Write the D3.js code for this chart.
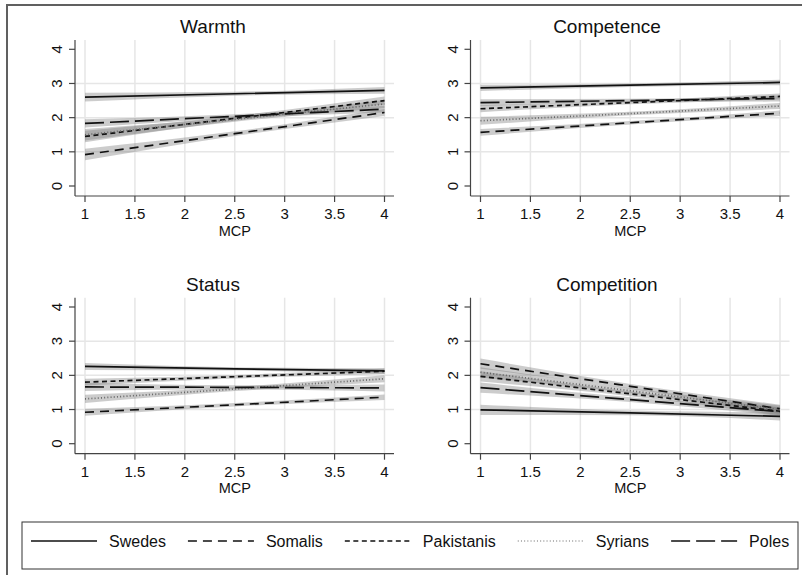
<!DOCTYPE html>
<html>
<head>
<meta charset="utf-8">
<script src="https://cdn.jsdelivr.net/npm/d3@7"></script>
<style>
  body { margin: 0; background: #fff; }
  svg { display: block; font-family: "Liberation Sans", Arial, sans-serif; }
</style>
</head>
<body>
<div class="chart"></div>
<script>
// panels and groups
var panels = ["Warmth", "Competence", "Status", "Competition"];
var groups = ["Swedes", "Somalis", "Pakistanis", "Syrians", "Poles"];
var mcpTicks = [1, 1.5, 2, 2.5, 3, 3.5, 4];
var yTicks = [0, 1, 2, 3, 4];
var gridY = [1, 2, 3];

// MCP values where the fitted lines / bands were read
var atMcp = [1, 2.5, 4];

// predicted values per group at atMcp (rows = groups)
var warmthFit = [[2.60, 2.70, 2.80], [0.92, 1.53, 2.15], [1.45, 1.98, 2.50], [1.50, 1.95, 2.40], [1.83, 2.04, 2.25]];
var competenceFit = [[2.87, 2.95, 3.03], [1.57, 1.85, 2.13], [2.26, 2.44, 2.62], [1.91, 2.12, 2.34], [2.44, 2.50, 2.56]];
var statusFit = [[2.26, 2.19, 2.13], [0.92, 1.14, 1.36], [1.80, 1.96, 2.12], [1.31, 1.60, 1.90], [1.66, 1.65, 1.63]];
var competitionFit = [[0.99, 0.90, 0.80], [2.34, 1.68, 1.02], [1.97, 1.46, 0.95], [2.09, 1.55, 1.00], [1.64, 1.29, 0.94]];

// half width of the confidence band at atMcp
var warmthCI = [[0.13, 0.06, 0.10], [0.17, 0.07, 0.10], [0.17, 0.07, 0.12], [0.17, 0.07, 0.12], [0.12, 0.06, 0.10]];
var competenceCI = [[0.09, 0.05, 0.08], [0.10, 0.05, 0.08], [0.10, 0.05, 0.09], [0.12, 0.05, 0.09], [0.10, 0.05, 0.09]];
var statusCI = [[0.10, 0.05, 0.08], [0.10, 0.05, 0.08], [0.10, 0.05, 0.08], [0.12, 0.06, 0.10], [0.12, 0.06, 0.10]];
var competitionCI = [[0.15, 0.07, 0.12], [0.15, 0.07, 0.12], [0.15, 0.07, 0.12], [0.15, 0.07, 0.12], [0.15, 0.07, 0.12]];

var fits = [warmthFit, competenceFit, statusFit, competitionFit];
var cis = [warmthCI, competenceCI, statusCI, competitionCI];

// line styles per group
var dashes = [null, "9,6", "5,3.5", "1,2.2", "19,6"];
var strokes = ["#111", "#111", "#111", "#666", "#111"];

var width = 802, height = 575;

var svg = d3.select(".chart").append("svg")
  .attr("width", width)
  .attr("height", height);

// outer frame
svg.append("rect")
  .attr("x", 7).attr("y", 5)
  .attr("width", 900).attr("height", 700)
  .attr("fill", "none")
  .attr("stroke", "#606060")
  .attr("stroke-width", 2);

panels.forEach(function(title, p) {
  var col = p % 2, row = Math.floor(p / 2);
  var left = 75 + 395.5 * col;
  var top = 40 + 257.7 * row;

  var x = d3.scaleLinear().domain([1, 4]).range([left + 10, left + 309.5]);
  var y = d3.scaleLinear().domain([0, 4]).range([top + 146, top + 9.3]);
  var bottom = top + 156;
  var right = left + 319;

  var g = svg.append("g");

  // gridlines
  g.selectAll(".vgrid").data(mcpTicks).enter().append("line")
    .attr("x1", function(d) { return x(d); })
    .attr("x2", function(d) { return x(d); })
    .attr("y1", top).attr("y2", bottom)
    .attr("stroke", "#e6e6e6").attr("stroke-width", 1.5);
  g.selectAll(".hgrid").data(gridY).enter().append("line")
    .attr("x1", left).attr("x2", right)
    .attr("y1", function(d) { return y(d); })
    .attr("y2", function(d) { return y(d); })
    .attr("stroke", "#e6e6e6").attr("stroke-width", 1.5);

  // bands
  groups.forEach(function(grp, k) {
    var pts = atMcp.map(function(m, i) {
      return { m: m, lo: fits[p][k][i] - cis[p][k][i], hi: fits[p][k][i] + cis[p][k][i] };
    });
    var area = d3.area()
      .x(function(d) { return x(d.m); })
      .y0(function(d) { return y(d.lo); })
      .y1(function(d) { return y(d.hi); })
      .curve(d3.curveMonotoneX);
    g.append("path")
      .attr("d", area(pts))
      .attr("fill", "#7a7a7a")
      .attr("fill-opacity", 0.38);
  });

  // fitted lines
  groups.forEach(function(grp, k) {
    var pts = atMcp.map(function(m, i) { return { m: m, v: fits[p][k][i] }; });
    var line = d3.line()
      .x(function(d) { return x(d.m); })
      .y(function(d) { return y(d.v); });
    g.append("path")
      .attr("d", line(pts))
      .attr("fill", "none")
      .attr("stroke", strokes[k])
      .attr("stroke-width", 1.7)
      .attr("stroke-dasharray", dashes[k]);
  });

  // axes
  var xAxis = g.append("g").attr("transform", "translate(0," + bottom + ")");
  xAxis.append("line").attr("x1", left).attr("x2", right)
    .attr("stroke", "#444").attr("stroke-width", 1.2);
  xAxis.selectAll(".xt").data(mcpTicks).enter().append("line")
    .attr("x1", function(d) { return x(d); })
    .attr("x2", function(d) { return x(d); })
    .attr("y1", 0).attr("y2", 6)
    .attr("stroke", "#444").attr("stroke-width", 1.2);
  xAxis.selectAll(".xl").data(mcpTicks).enter().append("text")
    .attr("x", function(d) { return x(d); })
    .attr("y", 23)
    .attr("text-anchor", "middle")
    .attr("font-size", 15)
    .attr("fill", "#111")
    .text(function(d) { return d; });
  xAxis.append("text")
    .attr("x", x(2.5)).attr("y", 39.5)
    .attr("text-anchor", "middle")
    .attr("font-size", 14.5)
    .attr("fill", "#111")
    .text("MCP");

  var yAxis = g.append("g").attr("transform", "translate(" + left + ",0)");
  yAxis.append("line").attr("y1", top).attr("y2", bottom)
    .attr("stroke", "#444").attr("stroke-width", 1.2);
  yAxis.selectAll(".yt").data(yTicks).enter().append("line")
    .attr("x1", -6).attr("x2", 0)
    .attr("y1", function(d) { return y(d); })
    .attr("y2", function(d) { return y(d); })
    .attr("stroke", "#444").attr("stroke-width", 1.2);
  yAxis.selectAll(".yl").data(yTicks).enter().append("text")
    .attr("transform", function(d) { return "translate(-13," + y(d) + ") rotate(-90)"; })
    .attr("text-anchor", "middle")
    .attr("font-size", 15)
    .attr("fill", "#111")
    .text(function(d) { return d; });

  // title
  g.append("text")
    .attr("x", 213 + 394 * col)
    .attr("y", top - 7)
    .attr("text-anchor", "middle")
    .attr("font-size", 19)
    .attr("fill", "#111")
    .text(title);
});

// legend
var legend = svg.append("g");
legend.append("rect")
  .attr("x", 22).attr("y", 522)
  .attr("width", 776).attr("height", 47)
  .attr("fill", "#fff")
  .attr("stroke", "#333").attr("stroke-width", 1);

var lx = 31;
groups.forEach(function(grp, k) {
  legend.append("line")
    .attr("x1", lx).attr("x2", lx + 66)
    .attr("y1", 541).attr("y2", 541)
    .attr("stroke", k == 3 ? "#999" : strokes[k])
    .attr("stroke-width", 1.7)
    .attr("stroke-dasharray", dashes[k]);
  var t = legend.append("text")
    .attr("x", lx + 78).attr("y", 547)
    .attr("font-size", 16)
    .attr("fill", "#111")
    .text(grp);
  lx += 78 + t.node().getComputedTextLength() + 22;
});
</script>
</body>
</html>
